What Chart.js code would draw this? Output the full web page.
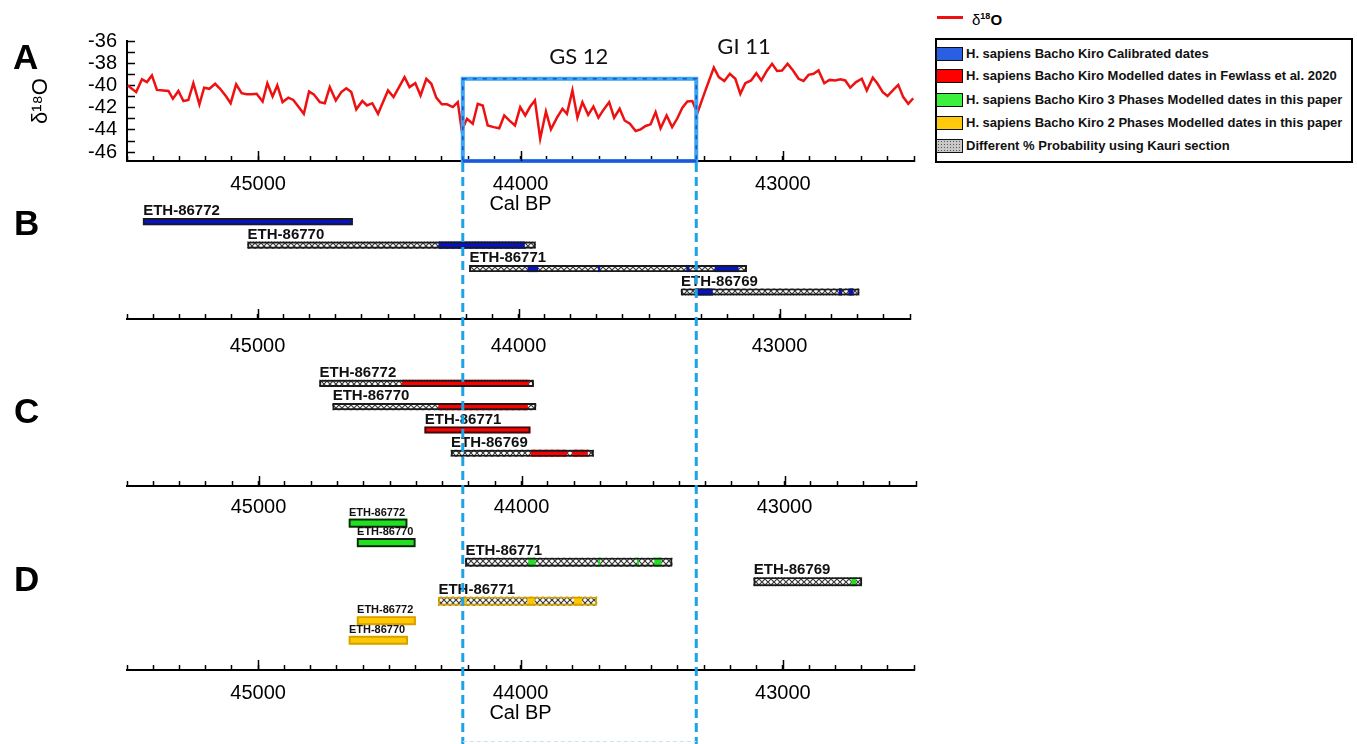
<!DOCTYPE html>
<html>
<head>
<meta charset="utf-8">
<script src="https://cdn.jsdelivr.net/npm/chart.js@4.4.1/dist/chart.umd.min.js"></script>
<style>
  html, body { margin: 0; padding: 0; background: #fff; }
  #page { position: relative; width: 1357px; height: 744px; overflow: hidden;
          font-family: 'Liberation Sans', Arial, sans-serif; color: #000; }
  canvas.panel { position: absolute; left: 0; top: 0; }
  .letter { position: absolute; font-weight: bold; font-size: 35px; line-height: 35px; }
  .sw { position: absolute; left: 936px; width: 27px; height: 14px; box-sizing: border-box; border: 1.5px solid #111; }
  .kt { position: absolute; left: 966px; font-weight: bold; font-size: 13px; line-height: 16px; white-space: nowrap; color: #111; }
</style>
</head>
<body>
<div id="page">
  <canvas id="panelA" class="panel" width="930" height="744"></canvas>
  <canvas id="panelB" class="panel" width="930" height="744"></canvas>
  <canvas id="panelC" class="panel" width="930" height="744"></canvas>
  <canvas id="panelD" class="panel" width="930" height="744"></canvas>

  <div class="letter" style="left:13px;top:39px">A</div>
  <div class="letter" style="left:14px;top:205px">B</div>
  <div class="letter" style="left:14px;top:393px">C</div>
  <div class="letter" style="left:14px;top:561px">D</div>

  <!-- key -->
  <div style="position:absolute;left:937px;top:15.5px;width:26px;height:3px;background:#ee1111"></div>
  <div style="position:absolute;left:972px;top:7px;font-size:15px;line-height:18px;font-weight:bold;white-space:nowrap"><span style="font-weight:normal">δ</span><sup style="font-size:9px;vertical-align:6px">18</sup>O</div>
  <div style="position:absolute;left:935px;top:38px;width:418px;height:125px;box-sizing:border-box;border:2.5px solid #000"></div>
  <div class="sw" style="top:47px;background:#2b5fe3"></div>
  <div class="kt" style="top:46px">H. sapiens Bacho Kiro Calibrated dates</div>
  <div class="sw" style="top:69px;background:#ff0000"></div>
  <div class="kt" style="top:68px">H. sapiens Bacho Kiro Modelled dates in Fewlass et al. 2020</div>
  <div class="sw" style="top:93px;background:#3cf03c"></div>
  <div class="kt" style="top:92px">H. sapiens Bacho Kiro 3 Phases Modelled dates in this paper</div>
  <div class="sw" style="top:115.5px;background:#ffc90e"></div>
  <div class="kt" style="top:114.5px">H. sapiens Bacho Kiro 2 Phases Modelled dates in this paper</div>
  <div class="sw" style="top:139px;background-color:#c8c8c8;background-image:radial-gradient(#555 0.9px, transparent 1px);background-size:3px 3px"></div>
  <div class="kt" style="top:138px">Different % Probability using Kauri section</div>
</div>

<script>
// ---- δ18O record: age (cal BP) and value (‰) ----
const d18oAge = [
  45497, 45465, 45443, 45424, 45405, 45386, 45361, 45342, 45325, 45304,
  45285, 45266, 45247, 45224, 45206, 45186, 45164, 45145, 45122, 45105,
  45084, 45063, 45044, 45025, 45006, 44983, 44965, 44945, 44927, 44907,
  44885, 44866, 44847, 44826, 44806, 44788, 44765, 44746, 44727, 44704,
  44683, 44664, 44645, 44626, 44603, 44585, 44565, 44543, 44524, 44505,
  44484, 44463, 44442, 44423, 44401, 44381, 44359, 44340, 44321, 44300,
  44280, 44258, 44239, 44224, 44204, 44182, 44163, 44144, 44125, 44102,
  44081, 44062, 44043, 44021, 44001, 43982, 43963, 43945, 43925, 43903,
  43884, 43861, 43840, 43823, 43802, 43783, 43764, 43742, 43722, 43703,
  43684, 43662, 43643, 43622, 43603, 43583, 43561, 43542, 43523, 43504,
  43485, 43466, 43443, 43422, 43403, 43383, 43364, 43345, 43326, 43295,
  43263, 43244, 43223, 43202, 43181, 43162, 43143, 43121, 43101, 43082,
  43060, 43041, 43022, 43003, 42982, 42961, 42940, 42921, 42902, 42883,
  42864, 42842, 42822, 42800, 42781, 42762, 42743, 42721, 42699, 42680,
  42657, 42640, 42619, 42601, 42579, 42560, 42541, 42522, 42503
];
const d18oValue = [
  -40.0, -40.6, -39.45, -39.7, -39.1, -40.4, -40.45, -40.5, -41.2, -40.5,
  -41.4, -41.3, -39.8, -41.7, -40.2, -40.3, -39.85, -40.3, -41.0, -41.6,
  -39.9, -40.7, -40.8, -40.8, -40.75, -41.45, -39.8, -41.0, -40.0, -41.5,
  -41.1, -41.3, -41.9, -42.55, -40.55, -40.8, -41.5, -41.6, -40.15, -41.35,
  -40.6, -40.25, -40.6, -42.15, -41.4, -41.8, -41.6, -42.55, -41.5, -40.45,
  -41.05, -40.15, -39.25, -40.15, -39.8, -40.9, -39.4, -39.85, -41.1, -41.7,
  -41.7, -41.95, -41.5, -44.05, -43.0, -43.45, -41.65, -41.8, -43.6, -43.75,
  -43.85, -42.7, -43.15, -43.6, -41.95, -42.7, -41.9, -41.35, -44.8, -42.35,
  -43.95, -42.9, -42.1, -42.55, -40.45, -42.9, -41.5, -42.65, -41.9, -42.9,
  -42.2, -41.5, -42.9, -42.1, -43.15, -43.45, -44.1, -43.95, -43.65, -43.5,
  -42.4, -43.85, -42.7, -43.75, -43.0, -42.0, -41.45, -41.4, -42.5, -40.45,
  -38.4, -39.25, -39.6, -38.95, -39.4, -40.75, -39.8, -39.55, -38.9, -39.55,
  -38.65, -38.05, -38.7, -38.65, -38.05, -38.65, -39.4, -39.6, -39.05, -38.95,
  -38.65, -39.8, -39.5, -39.55, -39.45, -39.55, -40.2, -39.7, -39.4, -40.45,
  -39.3, -39.8, -40.6, -40.95, -40.4, -39.95, -41.05, -41.65, -41.15
];
// δ18O axis ticks (one per unit, labelled every 2)
const d18oTicks = [-46, -45, -44, -43, -42, -41, -40, -39, -38, -37, -36];

// Greenland Stadial 12 bounds (cal BP) and the annotated events
const gs12 = [44220, 43330];
const gs12BoxTop = -39.4;
const eventNames = ['GS 12', 'GI 11'];
const eventAge = [43778, 43148];
const eventValue = [-37.4, -36.5];

// ---- B: calibrated dates ----
const bRows = ['ETH-86772', 'ETH-86770', 'ETH-86771', 'ETH-86769'];
const bSpan = [[45438, 44636], [45038, 43935], [44188, 43126], [43377, 42695]];
const bKauri = [false, true, true, true];
const bCalibrated = [
  [[45438, 44636]],
  [[44305, 43977]],
  [[43964, 43926], [43694, 43688], [43356, 43346], [43247, 43158]],
  [[43317, 43257], [42771, 42762], [42735, 42718]]
];

// ---- C: modelled dates, Fewlass et al. 2020 ----
const cRows = ['ETH-86772', 'ETH-86770', 'ETH-86771', 'ETH-86769'];
const cSpan = [[44768, 43954], [44718, 43945], [44368, 43967], [44268, 43726]];
const cKauri = [true, true, false, true];
const cModelled = [
  [[44454, 43973]],
  [[44315, 43977]],
  [[44368, 43967]],
  [[43964, 43827], [43806, 43749]]
];

// ---- D: 3-phase and 2-phase models ----
const dRows = ['ETH-86772', 'ETH-86770', 'ETH-86771', 'ETH-86769', 'ETH-86771', 'ETH-86772', 'ETH-86770'];
const dPhases = [3, 3, 3, 3, 2, 2, 2];
const dSpan = [[44654, 44432], [44623, 44401], [44210, 43422], [43111, 42699], [44313, 43709], [44623, 44400], [44654, 44430]];
const dKauri = [false, false, true, true, true, false, false];
const dModelled = [
  [[44654, 44432]],
  [[44623, 44401]],
  [[43969, 43944], [43702, 43697], [43555, 43550], [43489, 43464]],
  [[42737, 42722]],
  [[44220, 44207], [43973, 43947], [43795, 43766]],
  [[44623, 44400]],
  [[44654, 44430]]
];

// ---- layout & style ----
const FONT = "'Liberation Sans', Arial, sans-serif";
const CW = 930, CH = 744, AREA_L = 127, AREA_R = 916;
const AGE_MIN = 42500, AGE_MAX = 45500;
const BLUE = '#0514cc', RED = '#ff0000', GREEN = '#20e020', YELLOW = '#ffc800';
const D_LABEL_PX = [11, 11, 15, 15, 15, 11, 11];

Chart.defaults.font.family = FONT;
Chart.defaults.color = '#000';

function hatchPattern(ctx) {
  const c = document.createElement('canvas');
  c.width = 6; c.height = 6;
  const g = c.getContext('2d');
  g.fillStyle = '#ffffff';
  g.fillRect(0, 0, 6, 6);
  g.strokeStyle = '#3a3a3a';
  g.lineWidth = 1.2;
  g.beginPath();
  g.moveTo(0, 0); g.lineTo(6, 6);
  g.moveTo(6, 0); g.lineTo(0, 6);
  g.stroke();
  return ctx.createPattern(c, 'repeat');
}

function xScale(p) {
  return {
    type: 'linear', min: AGE_MIN, max: AGE_MAX, reverse: true,
    border: { display: true, color: '#000', width: 2 },
    grid: { display: true, drawOnChartArea: false, drawTicks: true, tickLength: -5, tickColor: '#000', tickWidth: 1.5 },
    ticks: {
      stepSize: 100, autoSkip: false, maxRotation: 0, minRotation: 0,
      padding: p.labelPad, color: '#000', font: { family: FONT, size: 20 },
      callback: v => (v % 1000 === 0 ? String(v) : '')
    },
    title: { display: !!p.title, text: p.title || '', color: '#000', font: { family: FONT, size: 20 }, padding: { top: 0, bottom: 0 } },
    afterFit: s => { s.height = p.axisH; }
  };
}

// longer marks on the thousand-year ticks
const majorTicks = {
  id: 'majorTicks',
  afterDraw(chart) {
    const s = chart.scales.x, g = chart.ctx;
    g.save();
    g.strokeStyle = '#000';
    g.lineWidth = 1.5;
    s.ticks.forEach(t => {
      if (t.value % 1000 === 0) {
        const px = Math.round(s.getPixelForValue(t.value)) + 0.5;
        g.beginPath(); g.moveTo(px, s.top); g.lineTo(px, s.top - 10); g.stroke();
      }
    });
    g.restore();
  }
};

function rowLabels(rows, sizes) {
  return {
    id: 'rowLabels',
    afterDatasetsDraw(chart) {
      const meta = chart.getDatasetMeta(0);
      const g = chart.ctx;
      g.save();
      g.fillStyle = '#111';
      g.textAlign = 'left';
      g.textBaseline = 'alphabetic';
      meta.data.forEach((el, i) => {
        const left = Math.min(el.x, el.base);
        const top = el.y - el.height / 2;
        g.font = 'bold ' + sizes[i] + 'px ' + FONT;
        g.fillText(rows[i], left, top - 3);
      });
      g.restore();
    }
  };
}

function barDatasets(ctx, span, kauri, segs, segColor, outlineColor, th) {
  const sets = [];
  sets.push({
    label: 'span',
    data: span.map((s, i) => ({ x: s, y: i })),
    backgroundColor: 'rgba(0,0,0,0)',
    borderColor: c => outlineColor(c.dataIndex),
    borderWidth: 1.3, borderSkipped: false, order: 0
  });
  const maxSeg = Math.max(...segs.map(s => s.length));
  for (let k = 0; k < maxSeg; k++) {
    sets.push({
      label: 'segment ' + k,
      data: segs.flatMap((list, i) => (list[k] ? [{ x: list[k], y: i }] : [])),
      backgroundColor: c => segColor(c.raw.y),
      borderWidth: 0, order: 1
    });
  }
  sets.push({
    label: 'kauri',
    data: span.flatMap((s, i) => (kauri[i] ? [{ x: s, y: i }] : [])),
    backgroundColor: hatchPattern(ctx),
    borderWidth: 0, order: 2
  });
  sets.forEach(s => { s.grouped = false; s.barThickness = th; });
  return sets;
}

function barChart(id, p, span, kauri, segs, segColor, outlineColor, rows, labelSizes) {
  const ctx = document.getElementById(id).getContext('2d');
  return new Chart(ctx, {
    type: 'bar',
    data: { datasets: barDatasets(ctx, span, kauri, segs, segColor, outlineColor, p.thickness) },
    options: {
      responsive: false, animation: false, devicePixelRatio: 1, indexAxis: 'y',
      layout: { padding: { left: AREA_L, right: CW - AREA_R, top: p.top, bottom: CH - p.axis - p.axisH } },
      scales: {
        x: xScale(p),
        y: { type: 'linear', reverse: true, min: p.rowMin, max: p.rowMax, display: false }
      },
      plugins: { legend: { display: false }, tooltip: { enabled: false } }
    },
    plugins: [majorTicks, rowLabels(rows, labelSizes)].concat(p.extra || [])
  });
}

// ---- A: δ18O ----
const gsBox = {
  id: 'gsBox',
  afterDatasetsDraw(chart) {
    const xs = chart.scales.x, ys = chart.scales.y, g = chart.ctx;
    const x1 = xs.getPixelForValue(gs12[0]), x2 = xs.getPixelForValue(gs12[1]);
    const yTop = ys.getPixelForValue(gs12BoxTop), yBot = ys.bottom;
    g.save();
    g.lineWidth = 4; g.strokeStyle = '#39a6f0';
    g.strokeRect(x1, yTop, x2 - x1, yBot - yTop);
    g.setLineDash([4, 6]); g.lineWidth = 1.6; g.strokeStyle = '#1d4fd0';
    g.strokeRect(x1, yTop, x2 - x1, yBot - yTop);
    g.setLineDash([]); g.lineWidth = 3; g.strokeStyle = '#1f55dd';
    g.beginPath(); g.moveTo(x1, yBot); g.lineTo(x2, yBot); g.stroke();
    g.fillStyle = '#111';
    g.font = '22px Lato, ' + FONT;
    g.textAlign = 'center'; g.textBaseline = 'middle';
    eventNames.forEach((n, i) => g.fillText(n, xs.getPixelForValue(eventAge[i]), ys.getPixelForValue(eventValue[i])));
    g.restore();
  }
};

const pA = { top: 41, axis: 161, axisH: 55, labelPad: 16, title: 'Cal BP' };
const chartA = new Chart(document.getElementById('panelA').getContext('2d'), {
  type: 'line',
  data: {
    datasets: [{
      label: 'δ18O',
      data: d18oAge.map((a, i) => ({ x: a, y: d18oValue[i] })),
      borderColor: '#ee1111', borderWidth: 2.5, pointRadius: 0, tension: 0, fill: false
    }]
  },
  options: {
    responsive: false, animation: false, devicePixelRatio: 1,
    layout: { padding: { left: 0, right: CW - AREA_R, top: pA.top, bottom: CH - pA.axis - pA.axisH } },
    scales: {
      x: xScale(pA),
      y: {
        type: 'linear', min: -46.8, max: -36,
        border: { display: true, color: '#000', width: 2 },
        grid: { display: true, drawOnChartArea: false, drawTicks: true, tickLength: -8, tickColor: '#000', tickWidth: 1.5 },
        ticks: {
          autoSkip: false, padding: 18, color: '#000', font: { family: FONT, size: 20 },
          callback: v => (v % 2 === 0 ? String(v) : '')
        },
        afterBuildTicks: s => { s.ticks = d18oTicks.map(v => ({ value: v })); },
        title: { display: true, text: 'δ¹⁸O', color: '#000', font: { family: FONT, size: 22 }, padding: { top: 28, bottom: 0 } },
        afterFit: s => { s.width = AREA_L; }
      }
    },
    plugins: { legend: { display: false }, tooltip: { enabled: false } }
  },
  plugins: [majorTicks, gsBox]
});

// ---- B, C, D ----
const pB = { top: 200, axis: 319, axisH: 40, labelPad: 20, rowMin: -0.5, rowMax: 3.73, thickness: 6.5 };
barChart('panelB', pB, bSpan, bKauri, bCalibrated, () => BLUE, () => '#1a1a1a', bRows, bRows.map(() => 15));

const pC = { top: 361.4, axis: 486, axisH: 40, labelPad: 14, rowMin: -0.5, rowMax: 3.96, thickness: 6.5 };
barChart('panelC', pC, cSpan, cKauri, cModelled, () => RED, () => '#1a1a1a', cRows, cRows.map(() => 15));

// GS-12 bounds carried down through the date panels
const gsLines = {
  id: 'gsLines',
  afterDraw(chart) {
    const xs = chart.scales.x, g = chart.ctx;
    const top = chartA.chartArea.bottom;
    g.save();
    g.strokeStyle = '#1ba3e6'; g.lineWidth = 3; g.setLineDash([9, 5]);
    gs12.forEach(v => {
      const px = xs.getPixelForValue(v);
      g.beginPath(); g.moveTo(px, top + 2); g.lineTo(px, CH); g.stroke();
    });
    g.strokeStyle = '#bfe5f7'; g.lineWidth = 1; g.setLineDash([4, 3]);
    g.beginPath();
    g.moveTo(xs.getPixelForValue(gs12[0]), CH - 2.5);
    g.lineTo(xs.getPixelForValue(gs12[1]), CH - 2.5);
    g.stroke();
    g.restore();
  }
};

const pD = { top: 503, axis: 670, axisH: 55, labelPad: 16, title: 'Cal BP', rowMin: -0.5, rowMax: 6.99, thickness: 8.5, extra: [gsLines] };
barChart('panelD', pD, dSpan, dKauri, dModelled,
  row => (dPhases[row] === 3 ? GREEN : YELLOW),
  row => (dPhases[row] === 3 ? '#1a1a1a' : '#d2a000'),
  dRows, D_LABEL_PX);
</script>
</body>
</html>
